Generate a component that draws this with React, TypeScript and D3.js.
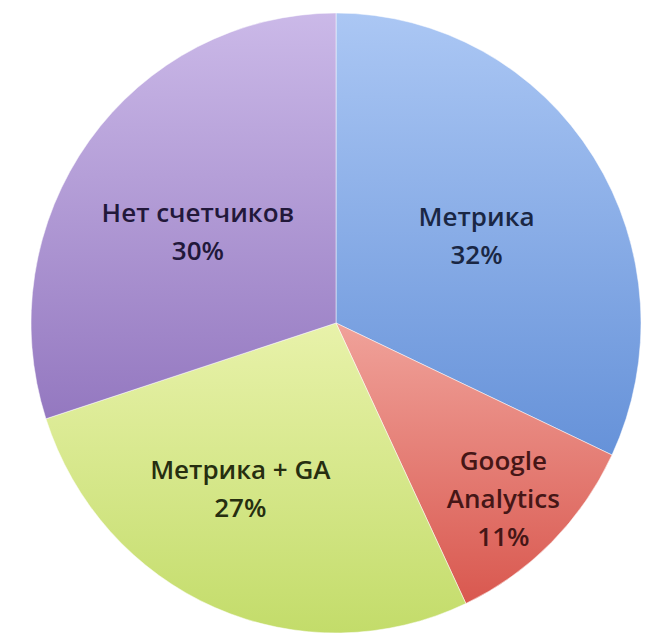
import React, { useRef, useEffect } from "react";
import * as d3 from "d3";

// slice data, clockwise from 12 o'clock
const categories = ["Метрика", "Google Analytics", "Метрика + GA", "Нет счетчиков"];
const values = [32, 11, 27, 30];
const labelLines = [["Метрика"], ["Google", "Analytics"], ["Метрика + GA"], ["Нет счетчиков"]];

// gradient colours (top -> bottom) and label colours
const topColors = ["#abc7f4", "#f0a29a", "#e8f2aa", "#cbb9e8"];
const bottomColors = ["#6692d9", "#d9584f", "#c3dc6a", "#9478c0"];
const textColors = ["#1a2744", "#451616", "#262e10", "#22183a"];

// where the labels sit inside their slice (fraction of radius, angle nudge in degrees)
const labelLayout = [
  { r: 0.54, da: 1 },
  { r: 0.79, da: 1 },
  { r: 0.62, da: 7 },
  { r: 0.54, da: -3 },
];

const App: React.FC = () => {
  const svgRef = useRef<SVGSVGElement | null>(null);

  useEffect(() => {
    if (!svgRef.current) return;

    const width = 650;
    const height = 641;
    const cx = 336;
    const cy = 323;
    const radius = 310;
    const xStretch = 305 / 310; // the pie is a touch narrower than tall

    const svg = d3.select(svgRef.current).attr("width", width).attr("height", height);
    svg.selectAll("*").remove();

    svg.append("rect").attr("width", width).attr("height", height).attr("fill", "#ffffff");

    const defs = svg.append("defs");
    categories.forEach((c, i) => {
      const g = defs
        .append("linearGradient")
        .attr("id", `grad${i}`)
        .attr("x1", 0)
        .attr("y1", 0)
        .attr("x2", 0)
        .attr("y2", 1);
      g.append("stop").attr("offset", "0%").attr("stop-color", topColors[i]);
      g.append("stop").attr("offset", "100%").attr("stop-color", bottomColors[i]);
    });

    const data = categories.map((c, i) => ({ name: c, value: values[i], idx: i }));

    const pie = d3
      .pie<{ name: string; value: number; idx: number }>()
      .sort(null)
      .value((d) => d.value);

    const arcs = pie(data);

    const arc = d3
      .arc<d3.PieArcDatum<{ name: string; value: number; idx: number }>>()
      .innerRadius(0)
      .outerRadius(radius);

    const chart = svg.append("g").attr("transform", `translate(${cx},${cy})`);

    chart
      .append("g")
      .attr("transform", `scale(${xStretch},1)`)
      .selectAll(".slice")
      .data(arcs)
      .enter()
      .append("path")
      .attr("class", "slice")
      .attr("d", arc)
      .attr("fill", (d) => `url(#grad${d.data.idx})`)
      .attr("stroke", "rgba(255,255,255,0.5)")
      .attr("stroke-width", 1);

    // labels
    const lineHeight = 38;
    const capHeight = 18;
    arcs.forEach((d) => {
      const i = d.data.idx;
      const lay = labelLayout[i];
      const mid = (d.startAngle + d.endAngle) / 2 + (lay.da * Math.PI) / 180;
      const lr = radius * lay.r;
      const x = lr * Math.sin(mid) * xStretch;
      const y = -lr * Math.cos(mid);
      const lines = [...labelLines[i], `${values[i]}%`];
      const blockH = capHeight + lineHeight * (lines.length - 1);
      const firstBaseline = y - blockH / 2 + capHeight;
      const t = chart
        .append("text")
        .attr("text-anchor", "middle")
        .attr("font-family", "'Open Sans', 'Noto Sans', sans-serif")
        .attr("font-size", 26)
        .attr("font-weight", 600)
        .attr("fill", textColors[i]);
      lines.forEach((ln, k) => {
        t.append("tspan")
          .attr("x", x)
          .attr("y", firstBaseline + k * lineHeight)
          .text(ln);
      });
    });
  }, []);

  return (
    <div style={{ position: "absolute", left: 0, top: 0 }}>
      <svg ref={svgRef} style={{ display: "block" }}></svg>
    </div>
  );
};

export default App;
